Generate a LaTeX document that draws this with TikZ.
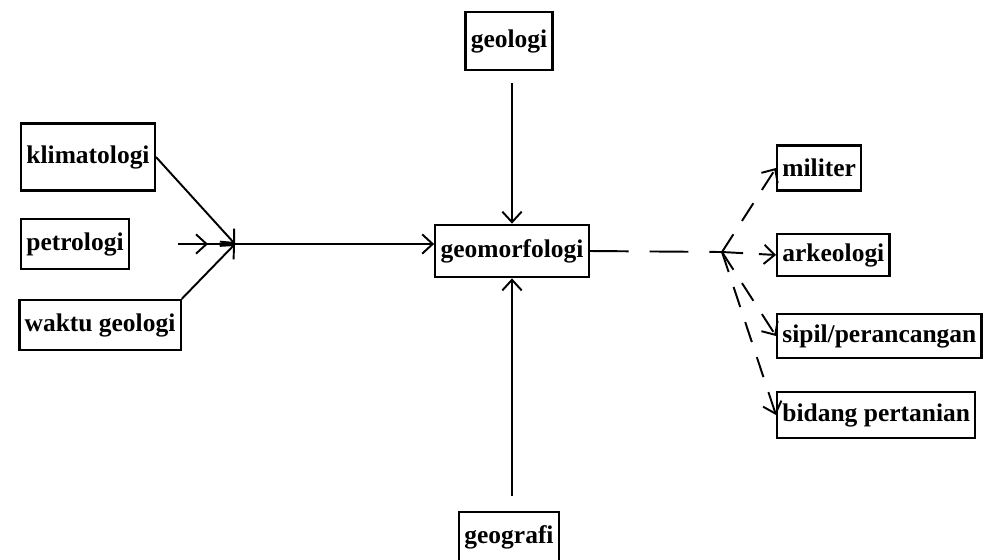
\documentclass[tikz,border=0pt]{standalone}
\usepackage{fontspec}
\setmainfont{Liberation Serif}
\usepackage{tikz}
\usetikzlibrary{arrows,arrows.meta,shapes,positioning}

\tikzset{box/.style={draw, line width=1.3pt, font=\fontsize{14.5}{17}\selectfont\bfseries, inner xsep=3pt, inner ysep=4pt, minimum height=1cm}}
\tikzset{garis/.style={line width=1.1pt, >={Straight Barb[length=6pt,width=11pt]}}}
\tikzset{putus/.style={garis, dash pattern=on 12pt off 9pt}}

\begin{document}
\begin{tikzpicture}[x=0.02cm,y=-0.02cm]
\useasboundingbox (0,0) rectangle (991,559);

\node [box, minimum height=1.16cm] (geologi) at (509,41) {geologi};
\node [box, minimum height=1.05cm] (geomorf) at (512,251) {geomorfologi};
\node [box] (geografi) at (509,537) {geografi};

\node [box, minimum height=1.34cm] (klima) at (88,157) {klimatologi};
\node [box] (petro) at (75,244) {petrologi};
\node [box] (waktu) at (100,325) {waktu geologi};

\node [box, minimum height=0.9cm, anchor=west] (militer) at (776,168) {militer};
\node [box, minimum height=0.85cm, anchor=west] (arkeo) at (776,255) {arkeologi};
\node [box, minimum height=0.87cm, anchor=west] (sipil) at (776,336) {sipil/perancangan};
\node [box, minimum height=0.92cm, anchor=west] (tani) at (776,415) {bidang pertanian};

% kiri
\coordinate (pusat) at (235,244);
\coordinate (awal) at (178,244);
\draw [garis, ->] (klima.east) -- (pusat);
\draw [garis, ->] (waktu.north east) -- (pusat);
\draw [garis, ->] (awal) -- (208,244);
\draw [garis] (awal) -- (pusat);
\draw [garis, ->] (pusat) -- (pusat -| geomorf.west);

% atas dan bawah
\draw [garis, ->] (geologi.south -| geomorf.north) ++(0,12) -- (geomorf.north);
\draw [garis, ->] (geografi.north -| geomorf.south) ++(0,-15) -- (geomorf.south);

% kanan
\coordinate (cabang) at (722,252);
\draw [garis, dash pattern=on 22pt off 12pt] (geomorf.east) -- (cabang);
\draw [putus, ->] (cabang) -- (militer.west);
\draw [putus, ->] (cabang) -- (arkeo.west);
\draw [putus, ->] (cabang) -- (sipil.west);
\draw [putus, ->] (cabang) -- (tani.west);
\end{tikzpicture}
\end{document}
